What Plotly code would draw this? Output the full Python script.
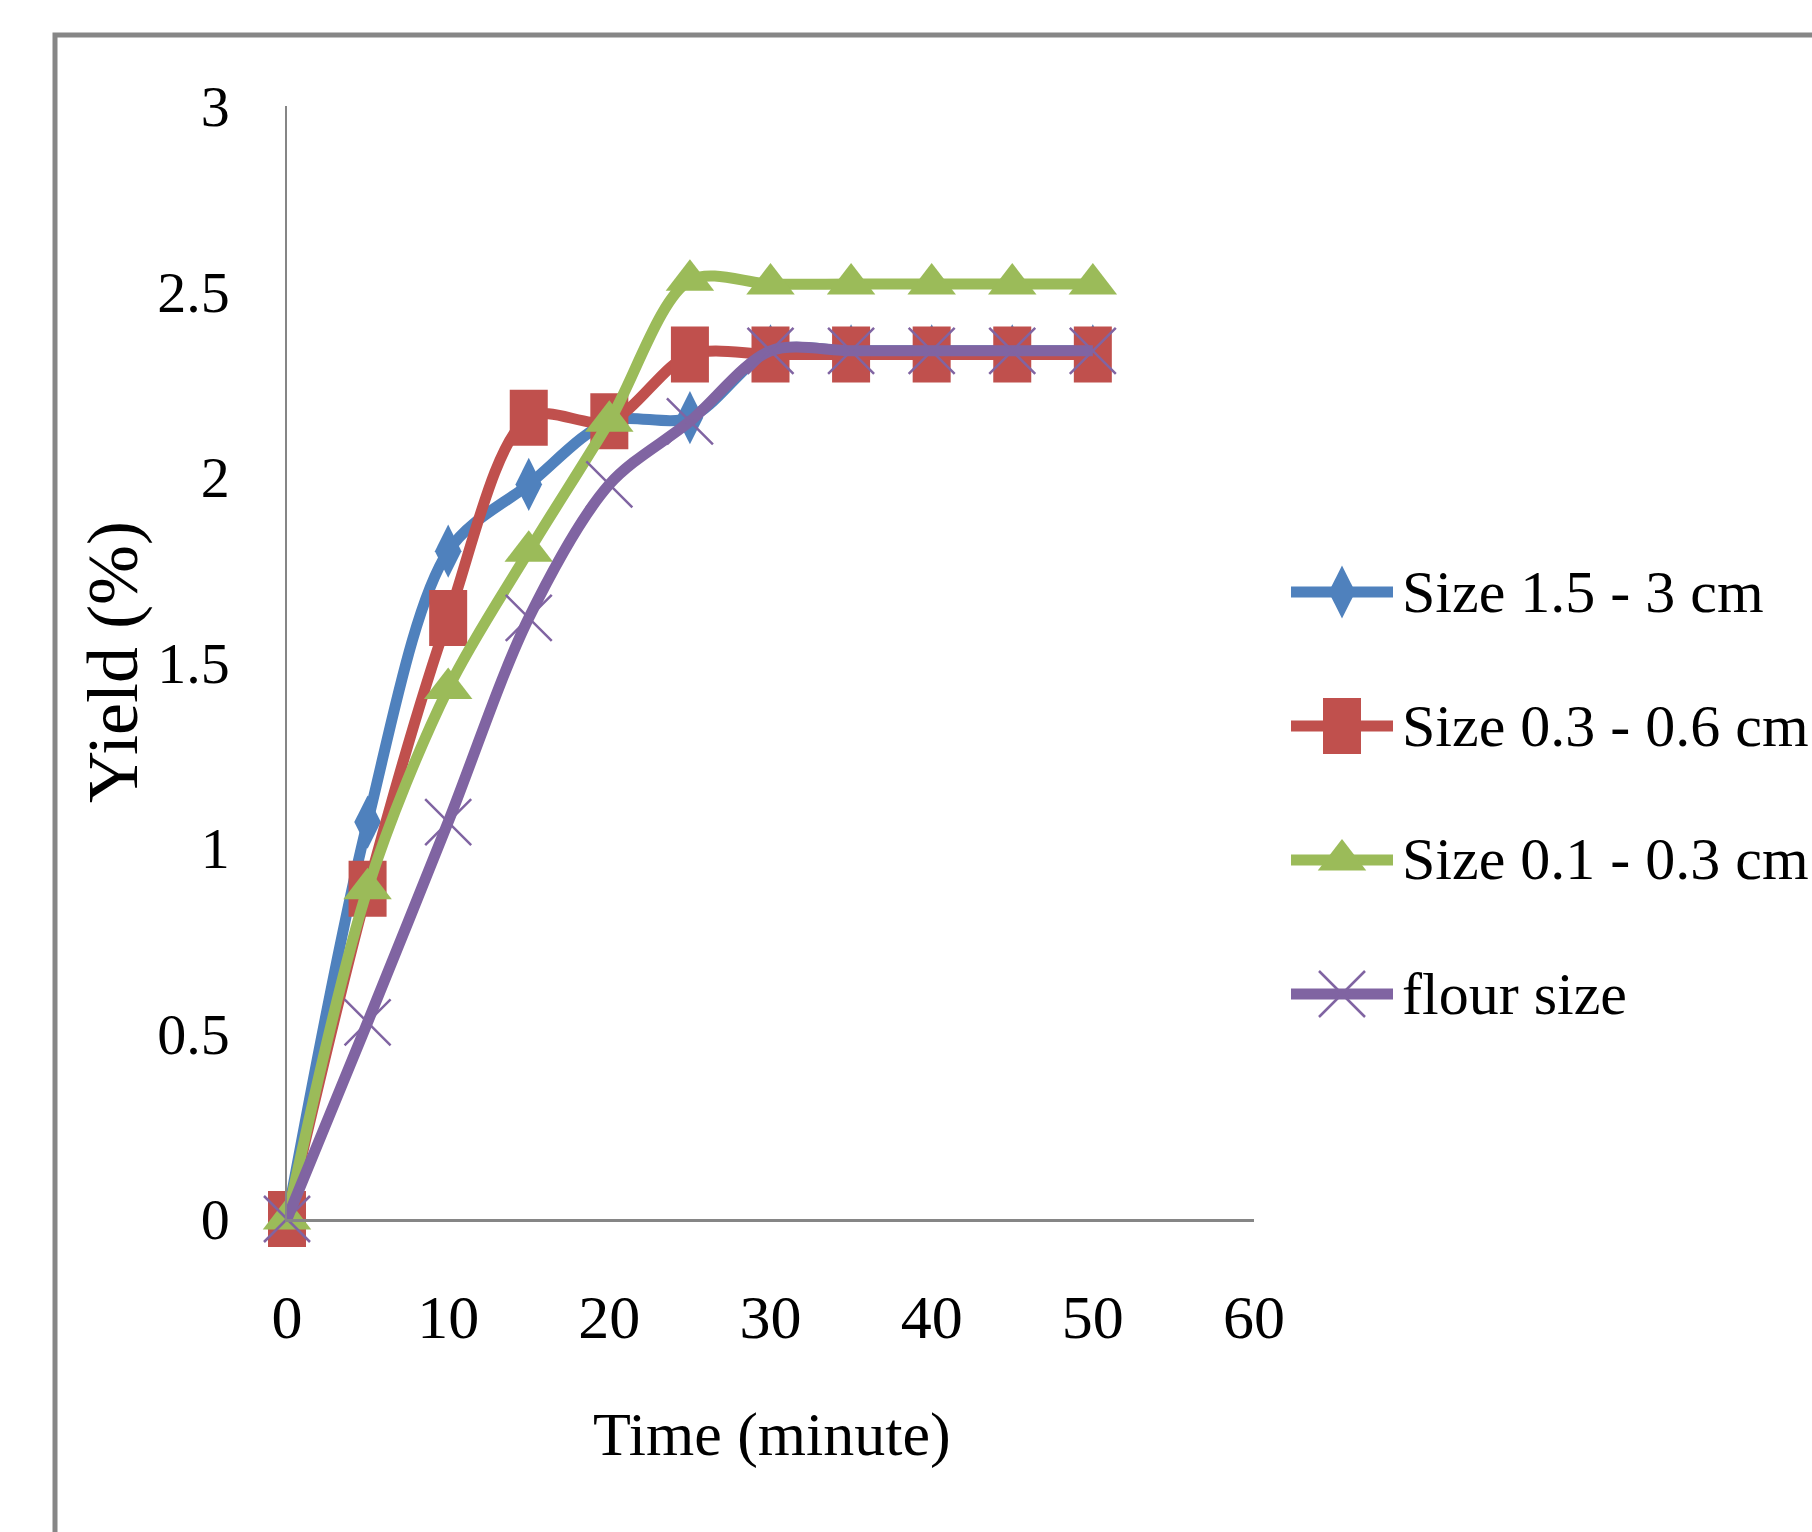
import plotly.graph_objects as go

W, H = 1812, 1532

time_min = [0, 5, 10, 15, 20, 25, 30, 35, 40, 45, 50]
size_15_3 = [0, 1.07, 1.80, 1.98, 2.15, 2.16, 2.34, 2.34, 2.34, 2.34, 2.34]
size_03_06 = [0, 0.89, 1.62, 2.16, 2.15, 2.33, 2.33, 2.33, 2.33, 2.33, 2.33]
size_01_03 = [0, 0.89, 1.43, 1.80, 2.15, 2.53, 2.52, 2.52, 2.52, 2.52, 2.52]
flour_size = [0, 0.53, 1.07, 1.62, 1.98, 2.15, 2.34, 2.34, 2.34, 2.34, 2.34]

names = ["Size 1.5 - 3 cm", "Size 0.3 - 0.6 cm", "Size 0.1 - 0.3 cm", "flour size"]
values = [size_15_3, size_03_06, size_01_03, flour_size]
colors = ["#4F81BD", "#C0504D", "#9BBB59", "#8064A2"]

x_ticks = [0, 10, 20, 30, 40, 50, 60]
y_ticks = [0, 0.5, 1, 1.5, 2, 2.5, 3]

FONT = "Liberation Serif"
LW = 11


def marker_style(i):
    c = colors[i]
    if i == 0:
        return dict(symbol="diamond-tall", size=38, color=c, line=dict(width=0))
    if i == 1:
        return dict(symbol="line-ns", size=40, color=c, line=dict(width=38, color=c))
    if i == 2:
        return dict(symbol="triangle-up", size=42, color=c, line=dict(width=0))
    return dict(symbol="x-thin", size=46, color=c, line=dict(width=2.5, color=c))


def px_x(p):
    return p / W


def px_y(p):
    return 1 - p / H


legend_rows_px = [592, 726, 859, 994]

fig = go.Figure()

for i, (nm, vals) in enumerate(zip(names, values)):
    fig.add_trace(go.Scatter(
        x=time_min, y=vals, name=nm, mode="lines+markers",
        line=dict(color=colors[i], width=LW, shape="spline", smoothing=0.9),
        marker=marker_style(i), cliponaxis=False, showlegend=False,
        xaxis="x", yaxis="y",
    ))

annotations = []
# custom legend (drawn in its own small axis)
for i, nm in enumerate(names):
    fig.add_trace(go.Scatter(
        x=[0, 1], y=[i, i], mode="lines",
        line=dict(color=colors[i], width=LW), showlegend=False,
        xaxis="x2", yaxis="y2", cliponaxis=False, hoverinfo="skip",
    ))
    fig.add_trace(go.Scatter(
        x=[0.5], y=[i], mode="markers", marker=marker_style(i),
        showlegend=False, xaxis="x2", yaxis="y2", cliponaxis=False, hoverinfo="skip",
    ))
    annotations.append(dict(
        x=px_x(1400), y=px_y(legend_rows_px[i]), xref="paper", yref="paper",
        text=nm, showarrow=False, xanchor="left", yanchor="middle",
        font=dict(family=FONT, size=60, color="black"),
    ))

annotations += [
    dict(text="Time (minute)", x=px_x(772), y=px_y(1434), xref="paper", yref="paper",
         showarrow=False, xanchor="center", yanchor="middle",
         font=dict(family=FONT, size=62, color="black")),
    dict(text="Yield (%)", x=px_x(113), y=px_y(662), xref="paper", yref="paper",
         showarrow=False, xanchor="center", yanchor="middle", textangle=-90,
         font=dict(family=FONT, size=72, color="black")),
]

fig.update_layout(
    template="none",
    width=W, height=H,
    margin=dict(l=0, r=0, t=0, b=0, pad=0, autoexpand=False),
    paper_bgcolor="white", plot_bgcolor="white",
    showlegend=False,
    xaxis=dict(
        domain=[px_x(287), px_x(1254)], range=[0, 60], tickvals=x_ticks,
        showgrid=False, zeroline=False, showline=True, linecolor="#868686", linewidth=3,
        ticks="", ticklabelstandoff=42, automargin=False,
        tickfont=dict(family=FONT, size=62, color="black"), anchor="y",
    ),
    yaxis=dict(
        domain=[px_y(1219), px_y(106)], range=[0, 3], tickvals=y_ticks,
        showgrid=False, zeroline=False, showline=True, linecolor="#868686", linewidth=1.5,
        ticks="", ticklabelstandoff=44, automargin=False,
        tickfont=dict(family=FONT, size=58, color="black"), anchor="x",
    ),
    xaxis2=dict(
        domain=[px_x(1291), px_x(1393)], range=[0, 1], visible=False, anchor="y2",
        fixedrange=True, automargin=False,
    ),
    yaxis2=dict(
        domain=[px_y(1061), px_y(525)], range=[3.5, -0.5], visible=False, anchor="x2",
        fixedrange=True, automargin=False,
    ),
    annotations=annotations,
    shapes=[dict(type="rect", xref="paper", yref="paper",
                 x0=px_x(55), x1=1.02, y0=-0.02, y1=px_y(35),
                 line=dict(color="#868686", width=5), fillcolor="rgba(0,0,0,0)", layer="below")],
)

fig.write_html("out.html")
